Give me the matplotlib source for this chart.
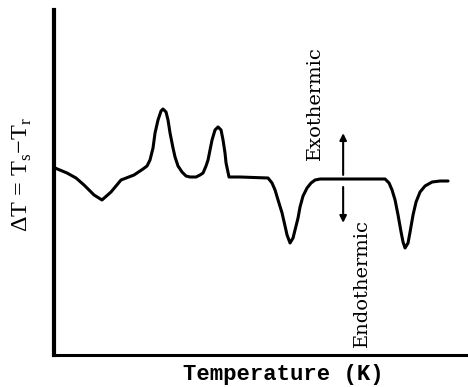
"""DTA curve sketch: temperature difference vs temperature."""

import matplotlib
import matplotlib.pyplot as plt

matplotlib.use('Agg')

plt.rcParams['mathtext.fontset'] = 'custom'
plt.rcParams['mathtext.rm'] = 'Liberation Serif'

# points (x in % of axis width, y in % of axis height)
temp = [0.24, 3.15, 5.33, 7.26, 9.69, 11.62, 13.80, 16.22, 19.37, 21.55,
        22.52, 23.24, 23.97, 24.46, 25.18, 25.91, 26.39, 27.12, 27.60,
        28.09, 28.81, 29.30, 30.02, 30.99, 31.96, 32.93, 34.38, 35.35,
        36.08, 36.80, 37.29, 37.77, 38.26, 38.98, 39.71, 40.44, 40.92,
        41.40, 41.65, 42.37, 45.04, 51.82, 52.78, 53.51, 54.24, 55.21,
        55.93, 56.42, 57.14, 57.87, 58.35, 59.08, 59.56, 60.29, 61.26,
        62.23, 63.20, 64.41, 80.15, 81.11, 81.84, 82.57, 83.29, 84.02,
        84.50, 84.99, 85.71, 86.20, 86.92, 87.65, 88.62, 89.83, 91.53,
        93.46, 95.40]
delta_t = [54.20, 52.75, 51.30, 49.28, 46.38, 44.93, 47.25, 50.72, 52.17,
           53.91, 54.78, 56.52, 60.00, 64.35, 68.12, 70.72, 71.30, 70.43,
           68.12, 64.35, 60.00, 57.39, 54.78, 53.04, 51.88, 51.59, 51.59,
           52.17, 52.75, 54.78, 56.52, 59.42, 62.32, 65.22, 66.09, 65.22,
           62.32, 58.55, 55.65, 51.59, 51.59, 51.30, 49.86, 47.83, 44.93,
           41.16, 37.39, 34.78, 32.46, 33.91, 36.23, 39.71, 42.90, 46.09,
           48.41, 49.86, 50.72, 51.01, 51.01, 49.86, 47.83, 44.93, 40.58,
           35.65, 32.75, 31.01, 32.46, 35.65, 40.58, 44.35, 47.25, 48.99,
           50.14, 50.43, 50.43]

arrow_x = 70.0
exo_arrow = (52.2, 64.3)
endo_arrow = (48.7, 38.3)

fig = plt.figure(figsize=(4.68, 3.87), dpi=100)
ax = fig.add_axes([0.1154, 0.0827, 0.8826, 0.8915])

ax.plot(temp, delta_t, color='black', lw=2.2, solid_capstyle='round',
        solid_joinstyle='round')
ax.set_xlim(0, 100)
ax.set_ylim(0, 100)

for side in ['top', 'right']:
    ax.spines[side].set_visible(False)
ax.spines['left'].set_linewidth(3)
ax.spines['bottom'].set_linewidth(2.2)
ax.set_xticks([])
ax.set_yticks([])

# direction arrows
ax.annotate('', xy=(arrow_x, exo_arrow[1]), xytext=(arrow_x, exo_arrow[0]),
            arrowprops=dict(arrowstyle='-|>', color='black', lw=1.5,
                            mutation_scale=10, shrinkA=0, shrinkB=0))
ax.annotate('', xy=(arrow_x, endo_arrow[1]), xytext=(arrow_x, endo_arrow[0]),
            arrowprops=dict(arrowstyle='-|>', color='black', lw=1.5,
                            mutation_scale=10, shrinkA=0, shrinkB=0))

ax.text(63.2, 73.0, 'Exothermic', rotation=90, ha='center', va='center',
        family='DejaVu Serif', fontsize=14)
ax.text(74.6, 20.9, 'Endothermic', rotation=90, ha='center', va='center',
        family='DejaVu Serif', fontsize=14)

fig.text(0.605, 0.004, 'Temperature (K)', ha='center', va='bottom',
         family='Liberation Mono', fontweight='bold', fontsize=16)
fig.text(0.047, 0.548, r'$\Delta$T = T$_\mathrm{s}$$-$T$_\mathrm{r}$',
         rotation=90, ha='center', va='center', family='Liberation Serif',
         fontsize=17.5)

fig.savefig('out.png', dpi=100)
